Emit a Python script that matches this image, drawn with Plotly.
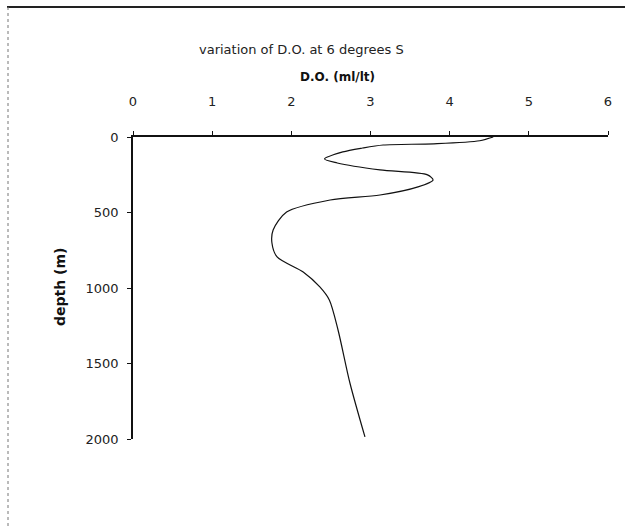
import plotly.graph_objects as go

# D.O. (ml/lt) vs depth (m)
do_values = [4.55, 4.38, 3.8, 3.16, 2.9, 2.65, 2.42, 2.58, 3.12, 3.72, 3.79, 3.6, 3.12, 2.49,
             1.94, 1.77, 1.755, 1.82, 2.15, 2.36, 2.48, 2.59, 2.74, 2.93]
depth_values = [0, 25, 45, 53, 73, 99, 146, 172, 218, 251, 285, 330, 384, 417,
                497, 616, 702, 794, 894, 993, 1079, 1278, 1629, 1986]

x_ticks = [0, 1, 2, 3, 4, 5, 6]
y_ticks = [0, 500, 1000, 1500, 2000]

title_text = "variation of D.O. at 6 degrees S"
x_title = "D.O. (ml/lt)"
y_title = "depth (m)"

W, H = 625, 527
L, R, T, B = 133, 608, 137, 439

def px(x):
    return (x - L) / (R - L)

def py(y):
    return (B - y) / (B - T)

fig = go.Figure()
fig.add_trace(go.Scatter(
    x=do_values, y=depth_values, mode="lines",
    line=dict(color="#111111", width=1.2, shape="spline", smoothing=0.8),
    showlegend=False, hoverinfo="skip"))

font = "DejaVu Sans, Liberation Sans, Arial, sans-serif"

fig.update_layout(
    width=W, height=H,
    margin=dict(l=L, r=W - R, t=T, b=H - B),
    paper_bgcolor="white", plot_bgcolor="white",
    font=dict(family=font, size=13, color="#222222"),
    xaxis=dict(range=[0, 6], side="top", tickvals=x_ticks, ticktext=[str(v) for v in x_ticks],
               showgrid=False, zeroline=False, showline=True, linecolor="#111111", linewidth=2,
               ticks="outside", ticklen=4, tickcolor="#111111", tickwidth=1,
               ticklabelstandoff=20, tickfont=dict(size=13, color="#222222")),
    yaxis=dict(range=[2000, 0], tickvals=y_ticks, ticktext=[str(v) for v in y_ticks],
               showgrid=False, zeroline=False, showline=True, linecolor="#111111", linewidth=1.5,
               ticks="outside", ticklen=4, tickcolor="#111111", tickwidth=1,
               ticklabelstandoff=6, tickfont=dict(size=13, color="#222222")),
)

fig.add_annotation(text=title_text, xref="paper", yref="paper", x=px(197), y=py(50),
                   showarrow=False, font=dict(size=13, color="#222222", family=font),
                   xanchor="left", yanchor="middle")
fig.add_annotation(text="<b>" + x_title + "</b>", xref="paper", yref="paper", x=px(337), y=py(77),
                   showarrow=False, font=dict(size=12, color="#111111", family=font),
                   xanchor="center", yanchor="middle")
fig.add_annotation(text="<b>" + y_title + "</b>", xref="paper", yref="paper", x=px(60), y=py(287),
                   showarrow=False, textangle=-90, font=dict(size=14, color="#111111", family=font),
                   xanchor="center", yanchor="middle")

# outer chart frame
fig.add_shape(type="line", xref="paper", yref="paper", x0=px(7), x1=px(625), y0=py(7), y1=py(7),
              line=dict(color="#222222", width=2))
fig.add_shape(type="line", xref="paper", yref="paper", x0=px(8), x1=px(8), y0=py(7), y1=py(527),
              line=dict(color="#777777", width=1, dash="dot"))

fig.write_html("out.html")
